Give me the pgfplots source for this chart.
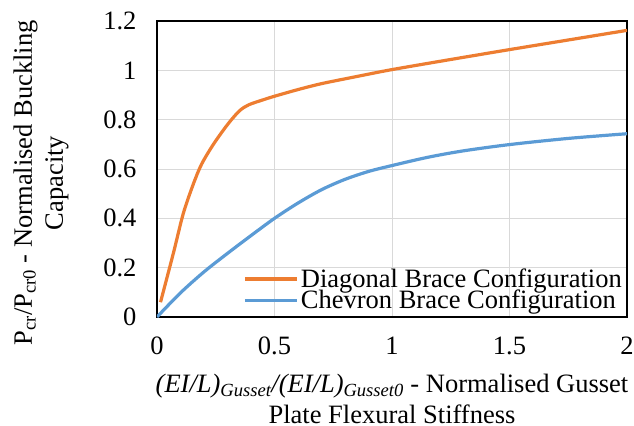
\documentclass[border=0pt]{standalone}
\usepackage{fontspec}
\setmainfont{Liberation Serif}
\usepackage{pgfplots}
\pgfplotsset{compat=1.18}
\definecolor{exorange}{HTML}{ED7D31}
\definecolor{exblue}{HTML}{5B9BD5}
\definecolor{gridgray}{HTML}{D9D9D9}
\begin{document}
\begin{tikzpicture}
\path[use as bounding box] (-157bp,-109bp) rectangle (477bp,317bp);
\begin{axis}[
  at={(0,0)}, anchor=south west,
  scale only axis,
  width=470bp, height=296bp,
  xmin=0, xmax=2, ymin=0, ymax=1.2,
  xtick={0,0.5,1,1.5,2},
  ytick={0,0.2,0.4,0.6,0.8,1,1.2},
  major tick length=0pt,
  grid=major,
  major grid style={color=gridgray, line width=1bp},
  axis line style={black, line width=1.5bp},
  font=\fontsize{26.5bp}{31bp}\selectfont,
  /pgf/number format/assume math mode=true,
  yticklabel style={xshift=-17bp},
  xticklabel style={yshift=-16bp},
  xlabel={\textit{(EI/L)\textsubscript{Gusset}/(EI/L)\textsubscript{Gusset0}} - Normalised Gusset\\Plate Flexural Stiffness},
  xlabel style={at={(rel axis cs:0.5,0)}, anchor=center, yshift=-82bp, align=center},
  ylabel={P\textsubscript{cr}/P\textsubscript{cr0} - Normalised Buckling\\Capacity},
  ylabel style={at={(rel axis cs:0,0.453)}, anchor=center, yshift=116bp, align=center},
  legend style={draw=none, fill=none, at={(axis cs:0.366,0.111)}, anchor=west,
    inner sep=0pt, row sep=1bp, nodes={inner xsep=2.5bp, inner ysep=0pt, anchor=west},
    font=\fontsize{26.5bp}{31bp}\selectfont},
  legend cell align=left,
  legend image code/.code={\draw[#1] (0bp,0bp) -- (52bp,0bp);},
]
\addplot[color=exorange, line width=3.2bp, smooth, tension=0.5] coordinates {
(0.015,0.06) (0.07,0.26) (0.112,0.42) (0.155,0.54) (0.19,0.62) (0.24,0.70)
(0.30,0.78) (0.35,0.835) (0.39,0.86) (0.45,0.88) (0.5,0.895) (0.6,0.922)
(0.7,0.946) (0.85,0.975) (1.0,1.003) (1.25,1.044) (1.5,1.084) (1.75,1.123) (2.0,1.162)
};
\addlegendentry{Diagonal Brace Configuration}
\addplot[color=exblue, line width=3.2bp, smooth, tension=0.5] coordinates {
(0,0) (0.1,0.098) (0.2,0.183) (0.3,0.258) (0.4,0.33) (0.5,0.40) (0.6,0.462)
(0.7,0.516) (0.8,0.558) (0.9,0.59) (1.0,0.614) (1.15,0.647) (1.3,0.673)
(1.5,0.699) (1.75,0.724) (2.0,0.743)
};
\addlegendentry{Chevron Brace Configuration}
\end{axis}
\end{tikzpicture}
\end{document}
